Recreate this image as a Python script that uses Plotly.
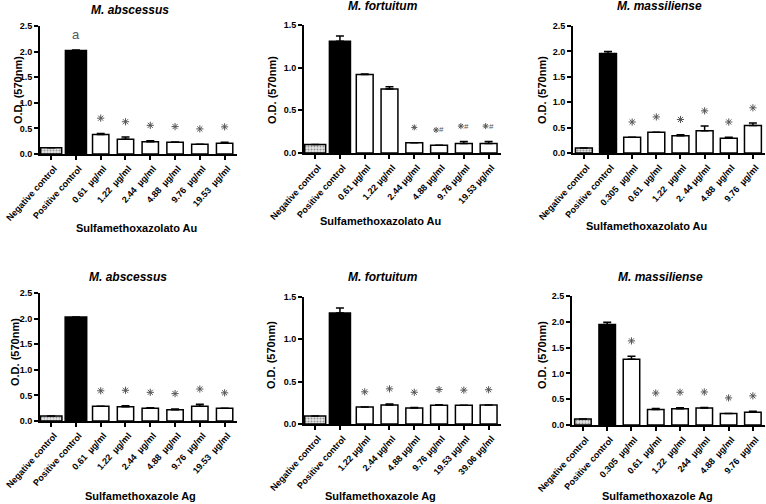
import plotly.graph_objects as go

W, H = 766, 504

# --- data ---
cats_ab_au = ["Negative control", "Positive control", "0.61  µg/ml", "1.22  µg/ml",
              "2.44  µg/ml", "4.88  µg/ml", "9.76  µg/ml", "19.53  µg/ml"]
od_ab_au = [0.12, 2.02, 0.38, 0.29, 0.24, 0.23, 0.19, 0.21]
err_ab_au = [0.0, 0.01, 0.02, 0.04, 0.02, 0.005, 0.0, 0.02]
sig_ab_au = ["", "a", "*", "*", "*", "*", "*", "*"]

cats_fo_au = ["Negative control", "Positive control", "0.61 µg/ml", "1.22 µg/ml",
              "2.44 µg/ml", "4.88 µg/ml", "9.76 µg/ml", "19.53 µg/ml"]
od_fo_au = [0.10, 1.31, 0.92, 0.75, 0.12, 0.09, 0.11, 0.11]
err_fo_au = [0.0, 0.06, 0.005, 0.025, 0.0, 0.0, 0.025, 0.025]
sig_fo_au = ["", "", "", "", "*", "*#", "*#", "*#"]

cats_ma_au = ["Negative control", "Positive control", "0.305  µg/ml", "0.61  µg/ml",
              "1.22  µg/ml", "2. 44 µg/ml", "4.88  µg/ml", "9.76  µg/ml"]
od_ma_au = [0.10, 1.96, 0.31, 0.41, 0.34, 0.44, 0.29, 0.54]
err_ma_au = [0.0, 0.04, 0.0, 0.0, 0.02, 0.09, 0.02, 0.05]
sig_ma_au = ["", "", "*", "*", "*", "*", "*", "*"]

cats_ab_ag = ["Negative control", "Positive control", "0.61  µg/ml", "1.22  µg/ml",
              "2.44  µg/ml", "4.88  µg/ml", "9.76  µg/ml", "19.53  µg/ml"]
od_ab_ag = [0.10, 2.03, 0.29, 0.28, 0.25, 0.22, 0.29, 0.25]
err_ab_ag = [0.0, 0.0, 0.0, 0.02, 0.01, 0.015, 0.035, 0.0]
sig_ab_ag = ["", "", "*", "*", "*", "*", "*", "*"]

cats_fo_ag = ["Negative control", "Positive control", "1.22 µg/ml", "2.44 µg/ml",
              "4.88 µg/ml", "9.76 µg/ml", "19.53 µg/ml", "39.06 µg/ml"]
od_fo_ag = [0.095, 1.31, 0.20, 0.225, 0.19, 0.22, 0.22, 0.225]
err_fo_ag = [0.0, 0.06, 0.0, 0.01, 0.005, 0.007, 0.0, 0.0]
sig_fo_ag = ["", "", "*", "*", "*", "*", "*", "*"]

cats_ma_ag = ["Negative control", "Positive control", "0.305  µg/ml", "0.61  µg/ml",
              "1.22  µg/ml", "244  µg/ml", "4.88  µg/ml", "9.76  µg/ml"]
od_ma_ag = [0.115, 1.95, 1.275, 0.30, 0.315, 0.33, 0.225, 0.245]
err_ma_ag = [0.0, 0.04, 0.055, 0.02, 0.02, 0.01, 0.0, 0.02]
sig_ma_ag = ["", "", "*", "*", "*", "*", "*", "*"]

FONT = "Liberation Sans, Arial, sans-serif"

# panel boxes in pixels: x0, x1, y0(top), y1(bottom)
panels = [
    dict(title="M. abscessus", xt="Sulfamethoxazolato Au", cats=cats_ab_au, od=od_ab_au,
         err=err_ab_au, sig=sig_ab_au, ymax=2.5, box=(40, 237, 26, 154),
         tpos=(130, 10), xtpos=(136, 228), ytpos=(18, 90), widths=(0.85, 0.66)),
    dict(title="M. fortuitum", xt="Sulfamethoxazolato Au", cats=cats_fo_au, od=od_fo_au,
         err=err_fo_au, sig=sig_fo_au, ymax=1.5, box=(304, 501, 25, 153),
         tpos=(383, 6), xtpos=(380, 221), ytpos=(272, 90), widths=(0.85, 0.68)),
    dict(title="M. massiliense", xt="Sulfamethoxazolato Au", cats=cats_ma_au, od=od_ma_au,
         err=err_ma_au, sig=sig_ma_au, ymax=2.5, box=(573, 765, 26, 153),
         tpos=(659, 6), xtpos=(646, 226), ytpos=(542, 90), widths=(0.7, 0.7)),
    dict(title="M. abscessus", xt="Sulfamethoxazole Ag", cats=cats_ab_ag, od=od_ab_ag,
         err=err_ab_ag, sig=sig_ab_ag, ymax=2.5, box=(40, 237, 293, 421),
         tpos=(128, 277), xtpos=(140, 496), ytpos=(15, 352), widths=(0.87, 0.66)),
    dict(title="M. fortuitum", xt="Sulfamethoxazole Ag", cats=cats_fo_ag, od=od_fo_ag,
         err=err_fo_ag, sig=sig_fo_ag, ymax=1.5, box=(304, 501, 297, 424),
         tpos=(383, 277), xtpos=(380, 496), ytpos=(271, 355), widths=(0.85, 0.68)),
    dict(title="M. massiliense", xt="Sulfamethoxazole Ag", cats=cats_ma_ag, od=od_ma_ag,
         err=err_ma_ag, sig=sig_ma_ag, ymax=2.5, box=(572, 765, 296, 425),
         tpos=(660, 277), xtpos=(657, 496), ytpos=(542, 355), widths=(0.68, 0.68)),
]

fig = go.Figure()
annotations = []


def paper_text(x, y, text, size, angle=0):
    return dict(x=x / W, y=1 - y / H, xref="paper", yref="paper", text=text,
                showarrow=False, textangle=angle, xanchor="center", yanchor="middle",
                font=dict(family=FONT, size=size, color="black"))


for k, p in enumerate(panels, start=1):
    xa = "x" if k == 1 else f"x{k}"
    ya = "y" if k == 1 else f"y{k}"
    x0, x1, y0, y1 = p["box"]
    n = len(p["cats"])
    idx = list(range(n))
    wc, ws = p["widths"]
    fill = ["#e6e6e6", "black"] + ["white"] * (n - 2)
    shapes = ["."] + [""] * (n - 1)
    top = [v + e for v, e in zip(p["od"], p["err"])]
    off = 0.12 * p["ymax"]

    fig.add_trace(go.Bar(
        x=idx, y=p["od"], xaxis=xa, yaxis=ya,
        width=[wc, wc] + [ws] * (n - 2),
        marker=dict(color=fill, line=dict(color="black", width=1.5),
                    pattern=dict(shape=shapes, fgcolor="#555", size=3, solidity=0.35,
                                 fillmode="overlay")),
        error_y=dict(type="data", array=p["err"], arrayminus=[0] * n, symmetric=False,
                     color="black", thickness=1.5, width=4),
        showlegend=False, hoverinfo="skip",
    ))

    # significance asterisks as markers
    star_i = [i for i, s in enumerate(p["sig"]) if s in ("*", "*#")]
    fig.add_trace(go.Scatter(
        x=[i - (0.12 if p["sig"][i] == "*#" else 0) for i in star_i],
        y=[top[i] + off for i in star_i], xaxis=xa, yaxis=ya, mode="markers",
        marker=dict(symbol="asterisk-open", size=5 if "*#" in p["sig"] else 6,
                    color="#555", line=dict(color="#555", width=1)),
        showlegend=False, hoverinfo="skip",
    ))
    for i, s in enumerate(p["sig"]):
        if s == "*#":
            annotations.append(dict(
                x=i + 0.1, y=top[i] + off, xref=xa, yref=ya, text="#", showarrow=False,
                xanchor="center", yanchor="middle",
                font=dict(family=FONT, size=8, color="#555")))
        elif s == "a":
            annotations.append(dict(
                x=i, y=top[i] + off, xref=xa, yref=ya, text="a", showarrow=False,
                xanchor="center", yanchor="middle",
                font=dict(family=FONT, size=13, color="#555")))

    lay_x = dict(
        domain=[x0 / W, x1 / W], anchor=ya, range=[-0.45, n - 0.5], automargin=False,
        tickmode="array", tickvals=idx, ticktext=p["cats"], tickangle=-48,
        ticklabeloverflow="allow", ticklabelshift=3,
        ticks="outside", ticklen=4, tickwidth=1.5, tickcolor="black",
        showline=True, linecolor="black", linewidth=1.8, showgrid=False, zeroline=False,
        tickfont=dict(family=FONT, size=9, color="black", weight="bold"),
    )
    lay_y = dict(
        domain=[1 - y1 / H, 1 - y0 / H], anchor=xa, range=[0, p["ymax"]], dtick=0.5,
        automargin=False,
        tickformat=".1f", ticks="outside", ticklen=4, tickwidth=1.5, tickcolor="black",
        showline=True, linecolor="black", linewidth=1.8, showgrid=False, zeroline=False,
        tickfont=dict(family=FONT, size=9, color="black", weight="bold"),
    )
    fig.update_layout(**{f"xaxis{'' if k == 1 else k}": lay_x,
                         f"yaxis{'' if k == 1 else k}": lay_y})

    annotations.append(paper_text(*p["tpos"], f"<b><i>{p['title']}</i></b>", 12))
    annotations.append(paper_text(*p["xtpos"], f"<b>{p['xt']}</b>", 11))
    annotations.append(paper_text(*p["ytpos"], "<b>O.D. (570nm)</b>", 11, -90))

fig.update_layout(
    width=W, height=H, margin=dict(l=0, r=0, t=0, b=0, autoexpand=False),
    paper_bgcolor="white", plot_bgcolor="white",
    annotations=annotations,
)

fig.write_html("out.html", config={"displayModeBar": False},
               post_script="document.body.style.margin='0px';")
